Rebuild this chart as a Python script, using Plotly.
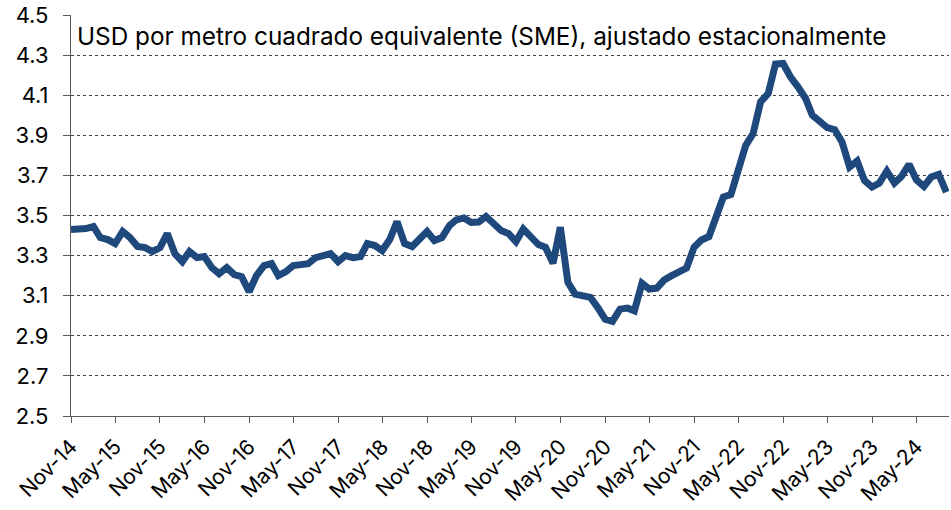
import plotly.graph_objects as go
import pandas as pd

start_month = "2014-11-01"
values = [
    3.43, 3.43, 3.435, 3.445, 3.39, 3.38, 3.36, 3.42, 3.39, 3.345,
    3.34, 3.32, 3.34, 3.41, 3.31, 3.27, 3.32, 3.29, 3.295, 3.24,
    3.21, 3.24, 3.205, 3.195, 3.12, 3.20, 3.25, 3.26, 3.20, 3.22,
    3.25, 3.255, 3.26, 3.29, 3.30, 3.31, 3.27, 3.30, 3.29, 3.295,
    3.36, 3.35, 3.325, 3.38, 3.47, 3.36, 3.345, 3.38, 3.42, 3.375,
    3.39, 3.45, 3.478, 3.488, 3.465, 3.467, 3.495, 3.46, 3.425, 3.41,
    3.37, 3.433, 3.395, 3.355, 3.342, 3.262, 3.442, 3.167, 3.108, 3.10,
    3.092, 3.042, 2.983, 2.972, 3.033, 3.038, 3.025, 3.162, 3.133, 3.138,
    3.178, 3.20, 3.217, 3.238, 3.342, 3.378, 3.395, 3.495, 3.592, 3.605,
    3.742, 3.85, 3.908, 4.067, 4.108, 4.255, 4.258, 4.192, 4.142, 4.085,
    4.0, 3.967, 3.938, 3.928, 3.867, 3.742, 3.772, 3.675, 3.642, 3.662,
    3.722, 3.662, 3.695, 3.755, 3.678, 3.645, 3.692, 3.705, 3.617,
]
dates = pd.date_range(start_month, periods=len(values), freq="MS")

tick_dates = pd.date_range("2014-11-01", "2024-05-01", freq="6MS")
tick_labels = [d.strftime("%b-%y") for d in tick_dates]
y_ticks = [2.5, 2.7, 2.9, 3.1, 3.3, 3.5, 3.7, 3.9, 4.1, 4.3, 4.5]
y_labels = [f"{v:.1f}" for v in y_ticks]
title_text = "USD por metro cuadrado equivalente (SME), ajustado estacionalmente"

FONT = "Inter"
TICK_SIZE = 22

fig = go.Figure()
fig.add_trace(go.Scatter(
    x=dates, y=values, mode="lines",
    line=dict(color="#1F497D", width=7),
    hoverinfo="skip", showlegend=False,
))

fig.update_layout(
    width=951, height=510,
    margin=dict(l=71, r=2, t=15, b=94, autoexpand=False),
    paper_bgcolor="white", plot_bgcolor="white",
    font=dict(family=FONT, size=TICK_SIZE, color="black"),
    xaxis=dict(
        type="date", automargin=False,
        range=["2014-11-01", "2024-09-12"],
        tickvals=list(tick_dates), ticktext=tick_labels,
        tickangle=-45,
        ticks="outside", ticklen=6, tickcolor="#595959",
        ticklabelstandoff=3,
        showline=True, linecolor="#595959", linewidth=1.2,
        showgrid=False, zeroline=False,
        tickfont=dict(family=FONT, size=21, color="black"),
    ),
    yaxis=dict(
        range=[2.5, 4.5], automargin=False,
        tickvals=y_ticks, ticktext=y_labels,
        ticks="outside", ticklen=7, tickcolor="#595959",
        ticklabelstandoff=10,
        showline=True, linecolor="#595959", linewidth=1.2,
        showgrid=True, gridcolor="#404040", griddash="dot", gridwidth=1,
        zeroline=False,
        tickfont=dict(family=FONT, size=TICK_SIZE, color="black"),
    ),
    annotations=[dict(
        text=title_text, xref="paper", yref="paper",
        x=0.005, y=0.99, xanchor="left", yanchor="top",
        showarrow=False,
        font=dict(family=FONT, size=24.3, color="black"),
    )],
)

fig.write_html(
    "out.html",
    config={"displayModeBar": False},
    post_script="document.body.style.margin='0';document.body.style.overflow='hidden';",
)
